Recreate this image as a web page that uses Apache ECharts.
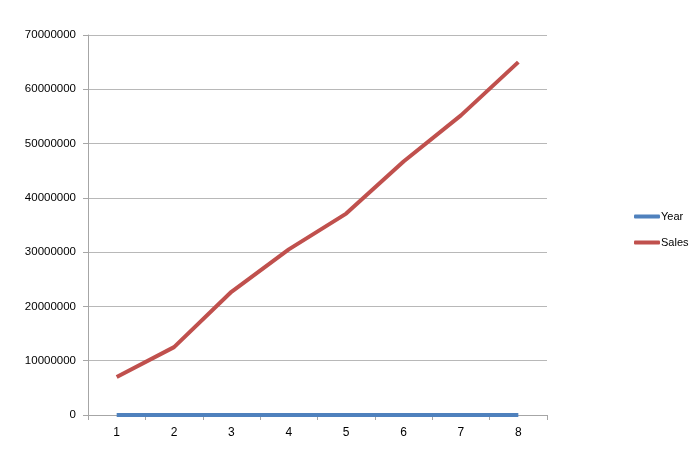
<!DOCTYPE html>
<html><head><meta charset="utf-8">
<script src="https://cdn.jsdelivr.net/npm/echarts@6/dist/echarts.min.js"></script>
<style>html,body{margin:0;padding:0;background:#fff}#c{width:700px;height:453px}</style>
</head><body><div id="c"></div>
<script>
var categories = ['1','2','3','4','5','6','7','8'];
var yearValues = [2005, 2006, 2007, 2008, 2009, 2010, 2011, 2012];
var salesValues = [7000000, 12500000, 22700000, 30500000, 37100000, 46700000, 55200000, 65000000];
var yTicks = [0, 10000000, 20000000, 30000000, 40000000, 50000000, 60000000, 70000000];

var chart = echarts.init(document.getElementById('c'), null, {renderer: 'canvas'});
var font = 'Liberation Sans, Arial, sans-serif';
chart.setOption({
  animation: false,
  backgroundColor: '#ffffff',
  grid: {left: 88, right: 153, top: 35, bottom: 38, containLabel: false},
  legend: {
    orient: 'vertical', left: 634, top: 211, padding: 0,
    itemWidth: 26, itemHeight: 4, itemGap: 15,
    icon: 'roundRect',
    textStyle: {fontFamily: font, fontSize: 11, color: '#000', padding: [0,0,0,-4]},
    data: ['Year', 'Sales']
  },
  xAxis: {
    type: 'category', data: categories, boundaryGap: true,
    axisLine: {lineStyle: {color: '#a6a6a6', width: 1}},
    axisTick: {show: true, length: 5, lineStyle: {color: '#a6a6a6'}},
    axisLabel: {fontFamily: font, fontSize: 12, color: '#000', margin: 12}
  },
  yAxis: {
    type: 'value', min: yTicks[0], max: yTicks[yTicks.length-1], interval: yTicks[1]-yTicks[0],
    axisLine: {show: true, lineStyle: {color: '#a6a6a6', width: 1}},
    axisTick: {show: true, length: 5, lineStyle: {color: '#a6a6a6'}},
    splitLine: {show: true, lineStyle: {color: '#b8b8b8', width: 1}},
    axisLabel: {fontFamily: font, fontSize: 11.5, color: '#000', margin: 12,
      formatter: function (v) { return String(v); }}
  },
  series: [
    {name: 'Year', type: 'line', data: yearValues, showSymbol: false,
     lineStyle: {color: '#4F81BD', width: 4}, itemStyle: {color: '#4F81BD'}},
    {name: 'Sales', type: 'line', data: salesValues, showSymbol: false,
     lineStyle: {color: '#C0504D', width: 4}, itemStyle: {color: '#C0504D'}}
  ]
});
</script></body></html>
